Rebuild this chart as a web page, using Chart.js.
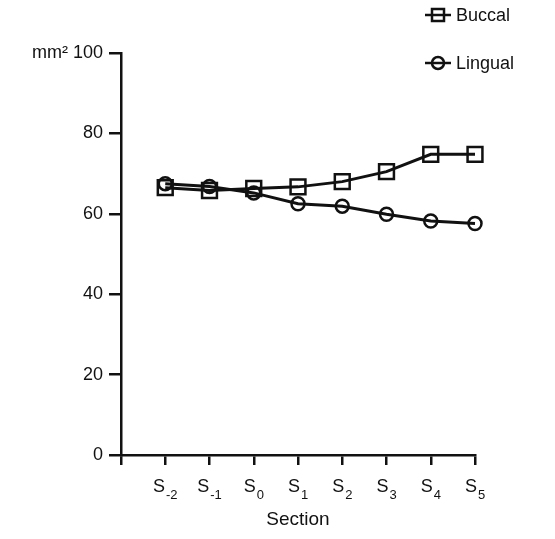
<!DOCTYPE html>
<html><head><meta charset="utf-8">
<script src="https://cdn.jsdelivr.net/npm/chart.js@4"></script>
<style>
html,body{margin:0;padding:0;background:#fff;}
#wrap{position:relative;width:555px;height:539px;}
canvas{display:block;}
.leg{position:absolute;font-family:"Liberation Sans",Arial,sans-serif;font-size:18px;color:#111;display:flex;align-items:center;gap:4px;line-height:22px;}
</style></head><body>
<div id="wrap"><canvas id="c" width="555" height="539"></canvas>
<div class="leg" style="left:424px;top:4px"><svg width="28" height="22"><line x1="1" y1="11" x2="27" y2="11" stroke="#111" stroke-width="2.5"/><rect x="8" y="5" width="12" height="12" fill="none" stroke="#111" stroke-width="2.5"/></svg><span>Buccal</span></div>
<div class="leg" style="left:424px;top:52px"><svg width="28" height="22"><line x1="1" y1="11" x2="27" y2="11" stroke="#111" stroke-width="2.5"/><circle cx="14" cy="11" r="6" fill="none" stroke="#111" stroke-width="2.5"/></svg><span>Lingual</span></div>
</div>
<script>
const sections = [-2, -1, 0, 1, 2, 3, 4, 5];
const sectionBase = 'S';
const sectionSubs = ['-2', '-1', '0', '1', '2', '3', '4', '5'];
const buccal = [66.5, 65.8, 66.3, 66.7, 68.0, 70.5, 74.8, 74.8];
const lingual = [67.5, 66.8, 65.2, 62.5, 61.9, 59.9, 58.2, 57.6];
const yTicks = [0, 20, 40, 60, 80, 100];
const yUnit = 'mm\u00B2';

const ink = '#111';
const fam = '"Liberation Sans", Arial, sans-serif';
const font = {family: fam, size: 18};

const subLabels = {
  id: 'subLabels',
  afterDraw(chart) {
    const ctx = chart.ctx, xs = chart.scales.x;
    const y0 = xs.top;
    ctx.save();
    ctx.fillStyle = ink;
    ctx.textBaseline = 'alphabetic';
    ctx.textAlign = 'left';
    sections.forEach((v, i) => {
      const x = xs.getPixelForValue(v);
      ctx.font = '18px ' + fam;
      const wS = ctx.measureText(sectionBase).width;
      ctx.font = '13px ' + fam;
      const wSub = ctx.measureText(sectionSubs[i]).width;
      const start = x - (wS + 1 + wSub) / 2;
      ctx.font = '18px ' + fam;
      ctx.fillText(sectionBase, start, y0 + 37);
      ctx.font = '13px ' + fam;
      ctx.fillText(sectionSubs[i], start + wS + 1, y0 + 44);
    });
    ctx.restore();
  }
};

new Chart(document.getElementById('c'), {
  type: 'line',
  data: {
    datasets: [
      {label: 'Buccal', data: sections.map((s, i) => ({x: s, y: buccal[i]})), clip: false,
       borderColor: ink, borderWidth: 3, pointStyle: 'rect', pointRadius: 10.5,
       pointBorderWidth: 2.5, pointBackgroundColor: 'rgba(0,0,0,0)', pointBorderColor: ink, tension: 0},
      {label: 'Lingual', data: sections.map((s, i) => ({x: s, y: lingual[i]})), clip: false,
       borderColor: ink, borderWidth: 3, pointStyle: 'circle', pointRadius: 6.5,
       pointBorderWidth: 2.5, pointBackgroundColor: 'rgba(0,0,0,0)', pointBorderColor: ink, tension: 0}
    ]
  },
  plugins: [subLabels],
  options: {
    responsive: false,
    animation: false,
    devicePixelRatio: 1,
    layout: {padding: {left: 0, right: 80, top: 53, bottom: 0}},
    plugins: {legend: {display: false}, tooltip: {enabled: false}},
    scales: {
      x: {
        type: 'linear', min: -3, max: 5,
        afterFit: s => { s.height = 84; },
        afterBuildTicks: s => { s.ticks = [-3].concat(sections).map(v => ({value: v})); },
        ticks: {color: ink, font: font, padding: 6, maxRotation: 0, callback: () => ''},
        grid: {drawOnChartArea: false, drawTicks: true, tickLength: 10, color: ink, lineWidth: 2.5},
        border: {display: true, color: ink, width: 2.5},
        title: {display: true, text: 'Section', color: ink, font: {family: fam, size: 19}, padding: {top: 0, bottom: 8}}
      },
      y: {
        min: 0, max: 100,
        afterFit: s => { s.width = 121; },
        afterBuildTicks: s => { s.ticks = yTicks.map(v => ({value: v})); },
        ticks: {color: ink, font: font, padding: 6,
          callback: v => v === 100 ? yUnit + ' ' + v : v},
        grid: {drawOnChartArea: false, drawTicks: true, tickLength: 12, color: ink, lineWidth: 2.5},
        border: {display: true, color: ink, width: 2.5}
      }
    }
  }
});
</script>
</body></html>
